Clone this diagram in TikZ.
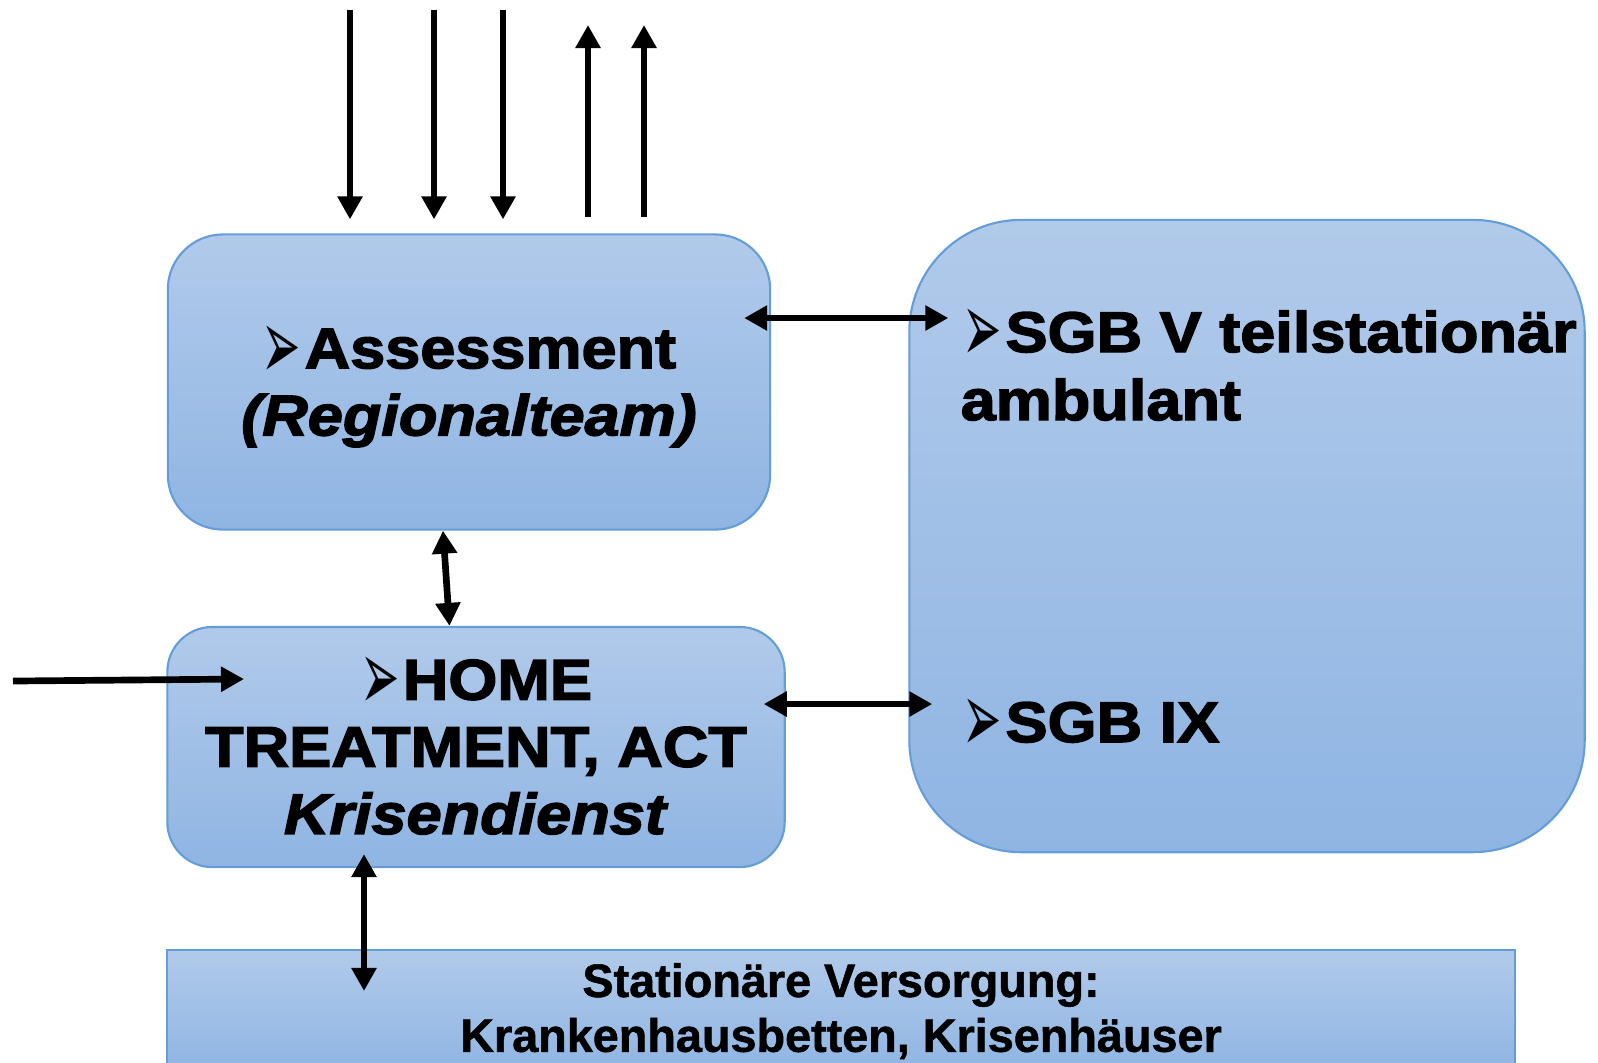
\documentclass[tikz,border=0pt]{standalone}
\usepackage{fontspec}
\setmainfont{Liberation Sans}[BoldFeatures={FakeBold=1.2}]
\newfontfamily\heavyfont{Liberation Sans}[FakeStretch=1.1,BoldFeatures={FakeBold=2.5},BoldItalicFeatures={FakeBold=2.5}]
\newfontfamily\dingfont{DejaVu Sans}
\usetikzlibrary{arrows.meta,calc}

\definecolor{boxtop}{RGB}{177,202,234}
\definecolor{boxbottom}{RGB}{143,181,227}
\definecolor{boxline}{RGB}{100,157,216}

\newcommand{\pointer}{\smash{\raisebox{-0.19em}{\scalebox{0.82}[1.75]{\dingfont ➢}}}\hspace{0.06em}}

\tikzset{
  panel/.style={draw=boxline, line width=0.6pt, top color=boxtop, bottom color=boxbottom, inner sep=0pt, align=center},
  bigtext/.style={font=\heavyfont\bfseries\fontsize{16.3}{19.1}\selectfont},
  flow/.style={line width=1.9pt, -{Triangle[width=0.24cm,length=0.23cm]}},
  twoway/.style={line width=1.9pt, {Triangle[width=0.24cm,length=0.23cm]}-{Triangle[width=0.24cm,length=0.23cm]}}
}

\begin{document}
\begin{tikzpicture}[x=0.01cm, y=-0.01cm]

  \useasboundingbox (0,0) rectangle (1598,1062);
  \clip (0,0) rectangle (1598,1062);

  % boxes
  \node[panel, bigtext, text depth=0pt, rounded corners=0.55cm, minimum width=6.02cm, minimum height=2.95cm] (assess) at (469,382)
    {\pointer Assessment\\\textit{(Regionalteam)}};
  \node[panel, bigtext, rounded corners=0.45cm, minimum width=6.17cm, minimum height=2.4cm] (home) at (476,747)
    {\pointer HOME\\TREATMENT, ACT\\\textit{Krisendienst}};
  \node[panel, rounded corners=1.12cm, minimum width=6.75cm, minimum height=6.32cm] (sgb) at (1247,536) {};
  \node[panel, font=\bfseries\fontsize{13.3}{15.6}\selectfont, minimum width=13.47cm, minimum height=1.22cm] (stat) at (841,1011)
    {Stationäre Versorgung:\\Krankenhausbetten, Krisenhäuser};

  % texts of the right box
  \node[bigtext, anchor=base west, inner sep=0pt] (sgbv) at (962,352) {\pointer SGB V teilstationär};
  \node[bigtext, anchor=base west, inner sep=0pt] (amb) at (960,420) {ambulant};
  \node[bigtext, anchor=base west, inner sep=0pt] (sgbix) at (962,742) {\pointer SGB IX};

  % coordinates
  \foreach \x [count=\i] in {350,434,503}
    \coordinate (in\i) at (\x,10);
  \foreach \x [count=\i] in {588,644}
    \coordinate (out\i) at (\x,25);
  \coordinate (left) at (13,681);
  \coordinate (ya) at (0,318);
  \coordinate (yb) at (0,704);
  \coordinate (xc) at (364,0);

  % arrows
  \foreach \i in {1,2,3}
    \draw[flow, shorten >=0.14cm] (in\i) -- (in\i |- assess.north);
  \foreach \i in {1,2}
    \draw[flow, shorten <=0.16cm] (out\i |- assess.north) -- (out\i);

  \draw[twoway, shorten <=-0.27cm, shorten >=-0.40cm] (ya -| assess.east) -- (ya -| sgb.west);
  \draw[twoway] ([xshift=-0.26cm]assess.south) -- ([xshift=-0.265cm]home.north);
  \draw[flow] (left) -- ([shift={(-232,-68)}]home.center);
  \draw[twoway, shorten <=-0.22cm, shorten >=-0.24cm] (yb -| home.east) -- (yb -| sgb.west);
  \draw[twoway, shorten <=-0.14cm, shorten >=-0.42cm] (xc |- home.south) -- (xc |- stat.north);

\end{tikzpicture}
\end{document}
